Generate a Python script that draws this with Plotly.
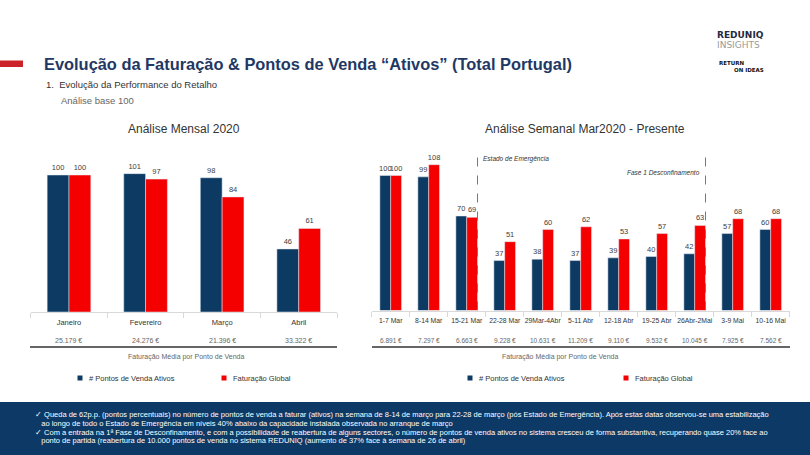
import plotly.graph_objects as go

W, H = 810, 455

# ---------------- data ----------------
months = ["Janeiro", "Fevereiro", "Março", "Abril"]
months_pontos = [100, 101, 98, 46]
months_fat = [100, 97, 84, 61]
months_media = ["25.179 €", "24.276 €", "21.396 €", "33.322 €"]

weeks = ["1-7 Mar", "8-14 Mar", "15-21 Mar", "22-28 Mar", "29Mar-4Abr", "5-11 Abr",
         "12-18 Abr", "19-25 Abr", "26Abr-2Mai", "3-9 Mai", "10-16 Mai"]
weeks_pontos = [100, 99, 70, 37, 38, 37, 39, 40, 42, 57, 60]
weeks_fat = [100, 108, 69, 51, 60, 62, 53, 57, 63, 68, 68]
weeks_media = ["6.891 €", "7.297 €", "6.663 €", "9.228 €", "10.631 €", "11.209 €",
               "9.110 €", "9.532 €", "10.045 €", "7.925 €", "7.562 €"]

events = [("Estado de Emergência", "15-21 Mar"), ("Fase 1 Desconfinamento", "26Abr-2Mai")]

series_names = ["# Pontos de Venda Ativos", "Faturação Global"]

notes = [
    "✓ Queda de 62p.p. (pontos percentuais) no número de pontos de venda a faturar (ativos) na semana de 8-14 de março para 22-28 de março (pós Estado de Emergência). Após estas datas observou-se uma estabilização",
    "   ao longo de todo o Estado de Emergência em níveis 40% abaixo da capacidade instalada observada no arranque de março",
    "✓ Com a entrada na 1ª Fase de Desconfinamento, e com a possibilidade de reabertura de alguns sectores, o número de pontos de venda ativos no sistema cresceu de forma substantiva, recuperando quase 20% face ao",
    "   ponto de partida (reabertura de 10.000 pontos de venda no sistema REDUNIQ (aumento de 37% face à semana de 26 de abril)",
]

# ---------------- style ----------------
NAVY = "#0d3a63"
RED = "#f50000"
BOX = "#0c3966"
TXT = "#404040"
FONT = "Liberation Sans, Arial, sans-serif"
NARROW = "Liberation Sans Narrow, Arial Narrow, Liberation Sans, sans-serif"


def px(x):
    return x / W


def py(y):
    return 1 - y / H


fig = go.Figure()

# left chart
fig.add_trace(go.Bar(x=months, y=months_pontos, name=series_names[0], marker_color=NAVY,
                     text=[str(v) for v in months_pontos], textposition="outside",
                     textfont=dict(size=7.5, color=TXT), cliponaxis=False, constraintext="none",
                     xaxis="x", yaxis="y", showlegend=False))
fig.add_trace(go.Bar(x=months, y=months_fat, name=series_names[1], marker_color=RED,
                     text=[str(v) for v in months_fat], textposition="outside",
                     textfont=dict(size=7.5, color=TXT), cliponaxis=False, constraintext="none",
                     xaxis="x", yaxis="y", showlegend=False))
# right chart
fig.add_trace(go.Bar(x=weeks, y=weeks_pontos, name=series_names[0], marker_color=NAVY,
                     text=[str(v) for v in weeks_pontos], textposition="outside",
                     textfont=dict(size=7.5, color=TXT), cliponaxis=False, constraintext="none",
                     xaxis="x2", yaxis="y2", showlegend=False))
fig.add_trace(go.Bar(x=weeks, y=weeks_fat, name=series_names[1], marker_color=RED,
                     text=[str(v) for v in weeks_fat], textposition="outside",
                     textfont=dict(size=7.5, color=TXT), cliponaxis=False, constraintext="none",
                     xaxis="x2", yaxis="y2", showlegend=False))

GROUP = 0.57
YMAX = 118
axis_common = dict(showline=True, linecolor="#d9d9d9", linewidth=1, ticks="outside",
                   tickson="boundaries", ticklen=5, tickcolor="#d9d9d9", showgrid=False,
                   zeroline=False, fixedrange=True, tickangle=0, ticklabelstandoff=3)

fig.update_layout(
    width=W, height=H, autosize=False,
    margin=dict(l=0, r=0, t=0, b=0),
    paper_bgcolor="white", plot_bgcolor="white",
    barmode="group", bargap=1 - GROUP, bargroupgap=0,
    font=dict(family=FONT, color=TXT),
    showlegend=False,
    xaxis=dict(domain=[px(30.7), px(337)], anchor="y",
               tickfont=dict(size=7.5, color="#333333"), **axis_common),
    yaxis=dict(domain=[py(312), py(312 - YMAX * 1.37)], range=[0, YMAX], visible=False,
               anchor="x", fixedrange=True),
    xaxis2=dict(domain=[px(371.7), px(789.7)], anchor="y2",
                tickfont=dict(size=6.8, color="#333333"), **axis_common),
    yaxis2=dict(domain=[py(310.5), py(310.5 - YMAX * 1.35)], range=[0, YMAX], visible=False,
                anchor="x2", fixedrange=True),
)

shapes = []
ann = []

# header
shapes.append(dict(type="rect", xref="paper", yref="paper", x0=0, x1=px(23), y0=py(67), y1=py(60.5),
                   fillcolor="#cc2229", line=dict(width=0)))
ann.append(dict(text="<b>Evolução da Faturação & Pontos de Venda “Ativos” (Total Portugal)</b>",
                x=px(42), y=py(64), xanchor="left", yanchor="middle",
                font=dict(size=16.4, color="#1f3864", family=FONT)))
ann.append(dict(text="1.  Evolução da Performance do Retalho", x=px(44), y=py(84),
                xanchor="left", yanchor="middle", font=dict(size=9.5, color="#333333")))
ann.append(dict(text="Análise base 100", x=px(59), y=py(100.5),
                xanchor="left", yanchor="middle", font=dict(size=9.5, color="#666666")))
# logo
ann.append(dict(text="<b>REDUNIQ</b>", x=px(715), y=py(35), xanchor="left", yanchor="middle",
                font=dict(size=9, color="#1f2a44", family="DejaVu Sans")))
ann.append(dict(text="INSIGHTS", x=px(715), y=py(45.5), xanchor="left", yanchor="middle",
                font=dict(size=9, color="#9a9a9a", family="DejaVu Sans")))
ann.append(dict(text="<b>RETURN</b>", x=px(717), y=py(63), xanchor="left", yanchor="middle",
                font=dict(size=5.5, color="#111111", family="DejaVu Sans")))
ann.append(dict(text="<b>ON IDEAS</b>", x=px(766), y=py(69.5), xanchor="right", yanchor="middle",
                font=dict(size=5.5, color="#111111", family="DejaVu Sans")))

# chart titles
ann.append(dict(text="Análise Mensal 2020", x=px(184), y=py(129), xanchor="center", yanchor="middle",
                font=dict(size=12, color="#333333")))
ann.append(dict(text="Análise Semanal Mar2020 - Presente", x=px(585), y=py(129), xanchor="center",
                yanchor="middle", font=dict(size=12, color="#333333")))

# euro rows
for m, v in zip(months, months_media):
    ann.append(dict(text=v, x=m, xref="x", y=py(340.5), yref="paper", xanchor="center",
                    yanchor="middle", font=dict(size=7, color="#666666")))
for w, v in zip(weeks, weeks_media):
    ann.append(dict(text=v, x=w, xref="x2", y=py(340.5), yref="paper", xanchor="center",
                    yanchor="middle", font=dict(size=6.5, color="#666666")))

shapes.append(dict(type="line", xref="paper", yref="paper", x0=px(30), x1=px(337),
                   y0=py(347), y1=py(347), line=dict(color="#333333", width=1.3)))
shapes.append(dict(type="line", xref="paper", yref="paper", x0=px(372), x1=px(790),
                   y0=py(347), y1=py(347), line=dict(color="#333333", width=1.3)))
ann.append(dict(text="Faturação Média por Ponto de Venda", x=px(186), y=py(357), xanchor="center",
                yanchor="middle", font=dict(size=7, color="#666666")))
ann.append(dict(text="Faturação Média por Ponto de Venda", x=px(560), y=py(357), xanchor="center",
                yanchor="middle", font=dict(size=7, color="#666666")))

# legends
for x0, x1 in [(80, 224), (470, 626)]:
    for xx, col, name in [(x0, NAVY, series_names[0]), (x1, RED, series_names[1])]:
        shapes.append(dict(type="rect", xref="paper", yref="paper", x0=px(xx - 2.5), x1=px(xx + 2.5),
                           y0=py(380.5), y1=py(375.5), fillcolor=col, line=dict(width=0)))
        ann.append(dict(text=name, x=px(xx + 7), y=py(378), xanchor="left", yanchor="middle",
                        font=dict(size=7.5, color="#333333")))

# event lines
half = GROUP / 2
for label, cat in events:
    i = weeks.index(cat)
    xline = i + half
    shapes.append(dict(type="line", xref="x2", yref="y2", x0=xline, x1=xline, y0=0, y1=116,
                       line=dict(color="#5f7d99", width=1, dash="dash")))
    if label.startswith("Estado"):
        ann.append(dict(text="<i>" + label + "</i>", x=xline, xref="x2", y=py(159), yref="paper",
                        xanchor="left", xshift=3, yanchor="middle",
                        font=dict(size=6.5, color="#333333")))
    else:
        ann.append(dict(text="<i>" + label + "</i>", x=xline, xref="x2", y=py(172.5), yref="paper",
                        xanchor="right", xshift=-4, yanchor="middle",
                        font=dict(size=6.5, color="#333333")))

# bottom box
shapes.append(dict(type="rect", xref="paper", yref="paper", x0=0, x1=1, y0=0, y1=py(402),
                   fillcolor=BOX, line=dict(width=0), layer="below"))
for k, line in enumerate(notes):
    ann.append(dict(text=line, x=px(33), y=py(414.5 + k * 8.8), xanchor="left", yanchor="middle",
                    font=dict(size=7.5, color="white", family=NARROW)))

for a in ann:
    a.setdefault("xref", "paper")
    a.setdefault("yref", "paper")
    a["showarrow"] = False

fig.update_layout(shapes=shapes, annotations=ann)
fig.write_html("out.html")
